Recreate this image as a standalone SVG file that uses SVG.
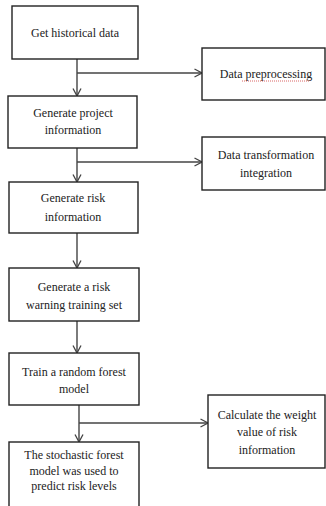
<svg xmlns="http://www.w3.org/2000/svg" width="326" height="506" viewBox="0 0 326 506">
<defs>
<style>
.box{fill:#fff;stroke:#222;stroke-width:1.4}
.t{font-family:"Liberation Serif","Times New Roman",serif;font-size:12px;fill:#222;text-anchor:middle}
.c{fill:none;stroke:#444;stroke-width:1.4}
</style>
<marker id="ah" viewBox="0 0 10 10" refX="9.5" refY="5" markerWidth="10" markerHeight="10" markerUnits="userSpaceOnUse" orient="auto">
<path d="M2,1 L9.5,5 L2,9" fill="none" stroke="#444" stroke-width="1.3"/>
</marker>
</defs>
<rect width="326" height="506" fill="#fff"/>
<g id="connectors">
<line class="c" x1="77" y1="59" x2="77" y2="96" marker-end="url(#ah)"/>
<line class="c" x1="77" y1="73" x2="202" y2="73" marker-end="url(#ah)"/>
<line class="c" x1="77" y1="148" x2="77" y2="182" marker-end="url(#ah)"/>
<line class="c" x1="77" y1="162" x2="202" y2="162" marker-end="url(#ah)"/>
<line class="c" x1="77" y1="233" x2="77" y2="268" marker-end="url(#ah)"/>
<line class="c" x1="77" y1="321" x2="77" y2="353" marker-end="url(#ah)"/>
<line class="c" x1="79" y1="405" x2="79" y2="442" marker-end="url(#ah)"/>
<line class="c" x1="79" y1="423" x2="208" y2="423" marker-end="url(#ah)"/>
</g>
<g id="n1"><rect class="box" x="12" y="6" width="126" height="53"/><text class="t" x="75" y="37">Get historical data</text></g>
<g id="n2"><rect class="box" x="8" y="96" width="129" height="52"/><text class="t" x="73" y="117">Generate project</text><text class="t" x="73" y="134">information</text></g>
<g id="n3"><rect class="box" x="9" y="182" width="129" height="51"/><text class="t" x="73" y="202">Generate risk</text><text class="t" x="73" y="221">information</text></g>
<g id="n4"><rect class="box" x="9" y="268" width="130" height="53"/><text class="t" x="74" y="291">Generate a risk</text><text class="t" x="74" y="309">warning training set</text></g>
<g id="n5"><rect class="box" x="9" y="353" width="130" height="52"/><text class="t" x="74" y="376">Train a random forest</text><text class="t" x="74" y="393">model</text></g>
<g id="n6"><rect class="box" x="9" y="442" width="130" height="70"/><text class="t" x="74" y="459">The stochastic forest</text><text class="t" x="74" y="475">model was used to</text><text class="t" x="74" y="490">predict risk levels</text></g>
<g id="n7"><rect class="box" x="202" y="48" width="123" height="52"/><text class="t" x="266" y="78">Data preprocessing</text><line x1="242" y1="81" x2="310" y2="81" stroke="#d04040" stroke-width="0.8" stroke-dasharray="1,1"/></g>
<g id="n8"><rect class="box" x="202" y="137" width="123" height="53"/><text class="t" x="266" y="159">Data transformation</text><text class="t" x="266" y="177">integration</text></g>
<g id="n9"><rect class="box" x="208" y="395" width="117" height="73"/><text class="t" x="267" y="419">Calculate the weight</text><text class="t" x="267" y="436">value of risk</text><text class="t" x="267" y="454">information</text></g>
</svg>
